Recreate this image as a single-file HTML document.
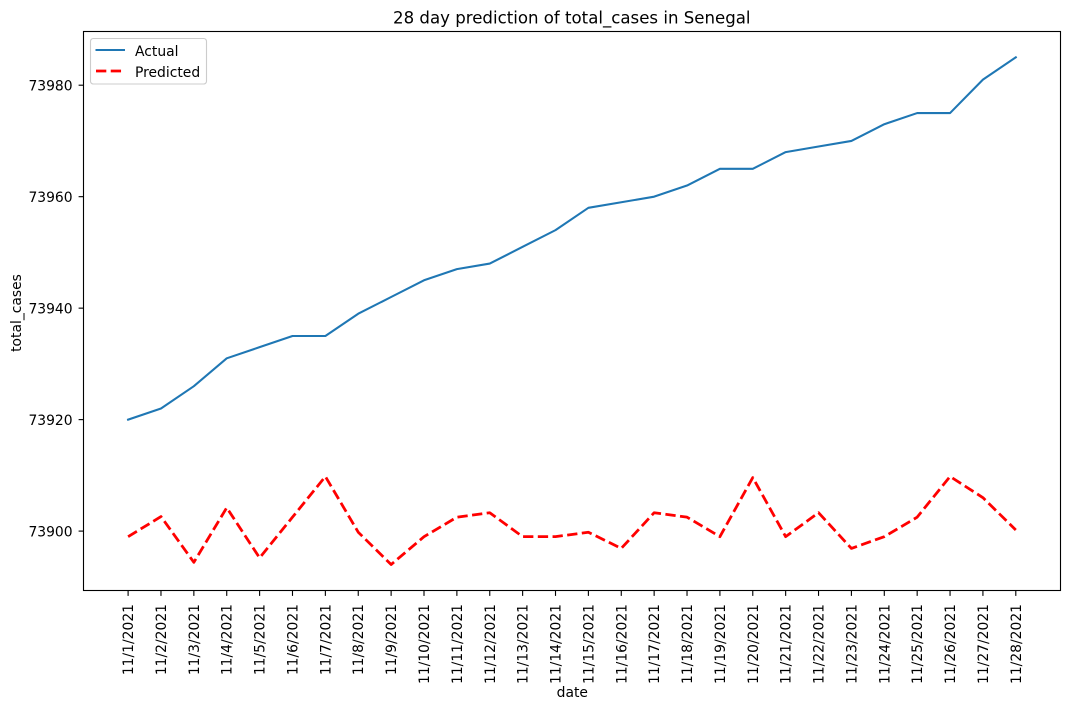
<!DOCTYPE html>
<html lang="en">
<head>
<meta charset="utf-8">
<title>28 day prediction of total_cases in Senegal</title>
<style>
html,body{margin:0;padding:0;background:#fff;width:1070px;height:709px;overflow:hidden}
svg{display:block}
text{font-family:"DejaVu Sans","Liberation Sans",sans-serif;fill:#000}
</style>
</head>
<body>
<svg id="chart" xmlns="http://www.w3.org/2000/svg" width="1070" height="709" viewBox="0 0 1070 709">
  <rect x="0" y="0" width="1070" height="709" fill="#fff"/>
  <g id="x-axis"></g>
  <g id="y-axis"></g>
  <g id="series"></g>
  <rect x="83.5" y="31.5" width="977" height="559" fill="none" stroke="#000" stroke-width="1.11"/>
  <text x="571.8" y="23.5" font-size="16.6" text-anchor="middle">28 day prediction of total_cases in Senegal</text>
  <text x="572.3" y="697" font-size="13.89" text-anchor="middle">date</text>
  <text transform="translate(21,313) rotate(-90)" font-size="13.89" text-anchor="middle">total_cases</text>
  <g>
    <rect x="90.5" y="38.5" width="116" height="45.5" rx="2.8" ry="2.8" fill="#fff" fill-opacity="0.8" stroke="#ccc" stroke-width="1.11"/>
    <line x1="95.5" y1="50" x2="125" y2="50" stroke="#1f77b4" stroke-width="2.08"/>
    <text x="135" y="56" font-size="13.89">Actual</text>
    <line x1="96" y1="71" x2="125" y2="71" stroke="#f00" stroke-width="2.78" stroke-dasharray="10.3 4.44"/>
    <text x="135" y="77" font-size="13.89">Predicted</text>
  </g>
</svg>
<script>
const dates = ["11/1/2021","11/2/2021","11/3/2021","11/4/2021","11/5/2021","11/6/2021","11/7/2021","11/8/2021","11/9/2021","11/10/2021","11/11/2021","11/12/2021","11/13/2021","11/14/2021","11/15/2021","11/16/2021","11/17/2021","11/18/2021","11/19/2021","11/20/2021","11/21/2021","11/22/2021","11/23/2021","11/24/2021","11/25/2021","11/26/2021","11/27/2021","11/28/2021"];
const actualValues = [73920,73922,73926,73931,73933,73935,73935,73939,73942,73945,73947,73948,73951,73954,73958,73959,73960,73962,73965,73965,73968,73969,73970,73973,73975,73975,73981,73985];
const predictedValues = [73899,73902.6,73894.4,73904.2,73895.2,73902.5,73909.8,73899.8,73894,73899,73902.5,73903.3,73899,73899,73899.8,73896.9,73903.3,73902.5,73899,73909.6,73899,73903.3,73896.9,73899,73902.5,73909.8,73906,73900.2];
const yTickLabels = [73900,73920,73940,73960,73980];

const NS = 'http://www.w3.org/2000/svg';
function xScale(i){ return 128.1 + i * (1015.8 - 128.1) / 27; }
function yScale(v){ return 531.1 - (v - 73900) * (531.1 - 85.2) / 80; }
function make(tag, attrs, parent){
  const el = document.createElementNS(NS, tag);
  for (const k in attrs) el.setAttribute(k, attrs[k]);
  parent.appendChild(el);
  return el;
}
const xAxis = document.getElementById('x-axis');
dates.forEach(function(d, i){
  const x = xScale(i);
  const tick = make('line', {x1:x, y1:591, x2:x, y2:595.9, stroke:'#000', 'stroke-width':1.11}, xAxis);
  
  
  const label = make('text', {transform:'translate(' + (x + 5) + ',604) rotate(-90)', 'font-size':13.89, 'text-anchor':'end'}, xAxis);
  
  
  label.textContent = d;
});
const yAxis = document.getElementById('y-axis');
yTickLabels.forEach(function(v){
  const y = yScale(v);
  const tick = make('line', {x1:78.6, y1:y, x2:83.5, y2:y, stroke:'#000', 'stroke-width':1.11}, yAxis);
  
  
  const label = make('text', {x:72.6, y:y + 5.4, 'font-size':13.89, 'text-anchor':'end'}, yAxis);
  
  
  label.textContent = v;
});
function points(values){
  return values.map(function(v, i){ return xScale(i).toFixed(2) + ',' + yScale(v).toFixed(2); }).join(' ');
}
const series = document.getElementById('series');
const actualLine = make('polyline', {points:points(actualValues), fill:'none', stroke:'#1f77b4', 'stroke-width':2.08, 'stroke-linejoin':'round', 'stroke-linecap':'square'}, series);


const predictedLine = make('polyline', {points:points(predictedValues), fill:'none', stroke:'#f00', 'stroke-width':2.78, 'stroke-linejoin':'round', 'stroke-dasharray':'10.3 4.44'}, series);


</script>
</body>
</html>
